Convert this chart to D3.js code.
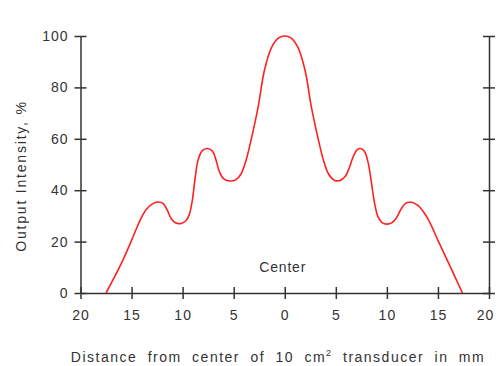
<!DOCTYPE html>
<html>
<head>
<meta charset="utf-8">
<script src="https://cdn.jsdelivr.net/npm/d3@7"></script>
<style>
  body { margin: 0; background: #fff; }
  svg text { font-family: "Liberation Sans", Arial, sans-serif; fill: #333; }
</style>
</head>
<body>
<div id="chart"></div>
<script>
// distance from centre (mm), negative = left of centre
const distance = [
  -17.5, -16.0, -15.0, -14.2, -13.6, -13.0, -12.4, -11.9, -11.5, -11.1, -10.7, -10.2, -9.7,
  -9.35, -9.05, -8.8, -8.5, -8.1, -7.6, -7.1, -6.75, -6.4, -6.0, -5.4, -4.8, -4.3, -3.8,
  -3.3, -2.6, -2.0, -1.3, -0.6, 0,
  0.6, 1.3, 2.0, 2.6, 3.3, 3.8, 4.3, 4.9, 5.4, 5.9, 6.3, 6.7, 7.1, 7.4, 7.8, 8.15, 8.45,
  8.75, 9.1, 9.5, 10.0, 10.5, 10.9, 11.3, 11.8, 12.4, 13.0, 13.6, 14.2, 15.0, 16.0, 17.4
];
// output intensity (%)
const intensity = [
  0, 11.5, 20.5, 28, 32.3, 34.6, 35.4, 34.8, 32.2, 28.8, 27.3, 27.0, 28.0,
  30.5, 36, 44, 51.5, 55.3, 56.2, 55.3, 52, 47.2, 44.5, 43.6, 44.0, 46.2, 51.5,
  59.5, 72.5, 86.5, 95.5, 99.3, 100,
  99.3, 95.5, 86.5, 72.5, 59.5, 51.5, 46.2, 43.8, 43.8, 45.2, 48.5, 53, 55.8, 56.2, 55.2, 51, 44,
  36, 30, 27.5, 26.8, 27.4, 29, 32, 34.8, 35.3, 34.2, 31.5, 27.5, 20.5, 12, 0
];
const xTicks = [-20, -15, -10, -5, 0, 5, 10, 15, 20];
const yTicks = [0, 20, 40, 60, 80, 100];

const width = 496, height = 366;
const plotLeft = 80.5, plotRight = 489, plotTop = 36, plotBottom = 293;

const svg = d3.select("#chart").append("svg")
  .attr("width", width)
  .attr("height", height);

const x = d3.scaleLinear().domain([-20, 20]).range([plotLeft, plotRight]);
const y = d3.scaleLinear().domain([0, 100]).range([plotBottom, plotTop]);

////////////////////////////////////////////////////////////////////////////////////

function styleAxis(g) {
  g.selectAll(".domain").attr("stroke", "#333").attr("stroke-width", 1.5);
  g.selectAll(".tick line").attr("stroke", "#333").attr("stroke-width", 1.5);
  g.selectAll(".tick text")
    .attr("fill", "#333")
    .style("font-size", "14px")
    .style("letter-spacing", "1px");
}

const yAxis = svg.append("g")
  .attr("transform", `translate(${plotLeft},0)`)
  .call(d3.axisLeft(y).tickValues(yTicks).tickSize(6).tickSizeOuter(0).tickPadding(6));
yAxis.selectAll(".tick line").attr("x2", 6).attr("x1", -6);
styleAxis(yAxis);

const yAxisRight = svg.append("g")
  .attr("transform", `translate(${plotRight},0)`)
  .call(d3.axisRight(y).tickValues(yTicks).tickSize(6).tickSizeOuter(0).tickFormat(""));
yAxisRight.selectAll(".tick line").attr("x1", -6).attr("x2", 6);
styleAxis(yAxisRight);

const xAxis = svg.append("g")
  .attr("transform", `translate(0,${plotBottom})`)
  .call(d3.axisBottom(x).tickValues(xTicks).tickSize(6).tickSizeOuter(0).tickPadding(11)
    .tickFormat(d => Math.abs(d)));
xAxis.selectAll(".tick line").attr("y1", -6).attr("y2", 6);
styleAxis(xAxis);
// the last label sits at the window edge; nudge it in like the original
xAxis.selectAll(".tick text").filter(d => d === 20).attr("dx", -4);

////////////////////////////////////////////////////////////////////////////////////

const points = distance.map((d, i) => [d, intensity[i]]);

const line = d3.line()
  .x(d => x(d[0]))
  .y(d => y(d[1]))
  .curve(d3.curveCatmullRom.alpha(0.5));

svg.append("path")
  .datum(points)
  .attr("fill", "none")
  .attr("stroke", "#ff2020")
  .attr("stroke-width", 1.6)
  .attr("d", line);

svg.append("text")
  .attr("x", x(0) - 2)
  .attr("y", 271.5)
  .attr("text-anchor", "middle")
  .style("font-size", "14px")
  .style("letter-spacing", "0.8px")
  .text("Center");

////////////////////////////////////////////////////////////////////////////////////

svg.append("text")
  .attr("transform", "translate(26,176) rotate(-90)")
  .attr("text-anchor", "middle")
  .style("font-size", "14px")
  .style("letter-spacing", "1.8px")
  .text("Output Intensity, %");

const xTitle = svg.append("text")
  .attr("x", 278)
  .attr("y", 362)
  .attr("text-anchor", "middle")
  .style("font-size", "14px")
  .style("letter-spacing", "1.5px")
  .style("word-spacing", "5px");
xTitle.append("tspan").text("Distance from center of 10 cm");
xTitle.append("tspan").attr("dy", -6).style("font-size", "9px").text("2");
xTitle.append("tspan").attr("dy", 6).text(" transducer in mm");
</script>
</body>
</html>
